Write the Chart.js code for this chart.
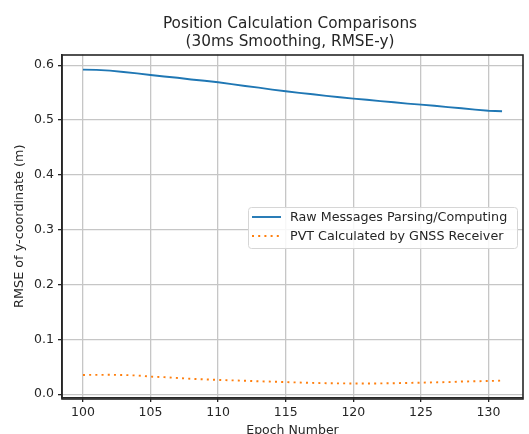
<!DOCTYPE html>
<html>
<head>
<meta charset="utf-8">
<script src="https://cdn.jsdelivr.net/npm/chart.js@4"></script>
<style>
  html, body { margin: 0; padding: 0; background: #fff; overflow: hidden; }
  #wrap { width: 529px; height: 434px; }
</style>
</head>
<body>
<div id="wrap"><canvas id="c"></canvas></div>
<script>
// Epoch numbers on the x axis
const epochs = [100,101,102,103,104,105,106,107,108,109,110,111,112,113,114,115,
                116,117,118,119,120,121,122,123,124,125,126,127,128,129,130,131];

// RMSE of y-coordinate (m) per epoch
const rawParsing = [0.592,0.5915,0.590,0.5875,0.585,0.582,0.5795,0.577,0.574,0.5715,0.569,0.5655,
                    0.562,0.559,0.5555,0.5525,0.5495,0.547,0.544,0.5415,0.539,0.537,0.5345,0.5325,
                    0.530,0.528,0.526,0.5235,0.5215,0.519,0.517,0.516];
const receiverPvt = [0.035,0.0352,0.0353,0.035,0.034,0.032,0.031,0.0295,0.028,0.027,0.026,0.0252,
                     0.0245,0.0235,0.0228,0.022,0.0212,0.0205,0.020,0.0197,0.0195,0.0194,0.0196,0.020,
                     0.0205,0.021,0.0215,0.022,0.023,0.0235,0.024,0.0248];

const xTicks = [100,105,110,115,120,125,130];
const yTicks = [0.0,0.1,0.2,0.3,0.4,0.5,0.6];

const seriesLabels = ['Raw Messages Parsing/Computing', 'PVT Calculated by GNSS Receiver'];
const titleLines = ['Position Calculation Comparisons', '(30ms Smoothing, RMSE-y)'];
const xTitle = 'Epoch Number';
const yTitle = 'RMSE of y-coordinate (m)';

const FONT = "'DejaVu Sans', sans-serif";
const TEXT = '#262626';

// two-line title centred over the plot area
const plotTitle = {
  id: 'plotTitle',
  afterDraw(chart) {
    const {ctx, chartArea: a} = chart;
    const cx = (a.left + a.right) / 2 - 2.5;
    ctx.save();
    ctx.font = '15.3px ' + FONT;
    ctx.fillStyle = TEXT;
    ctx.textAlign = 'center';
    ctx.textBaseline = 'middle';
    titleLines.forEach((t, i) => ctx.fillText(t, cx, 24 + i * 18));
    ctx.restore();
  }
};

// closed frame around the plot area (all four spines)
const frame = {
  id: 'frame',
  afterDatasetsDraw(chart) {
    const {ctx, chartArea: a} = chart;
    ctx.save();
    ctx.strokeStyle = '#262626';
    ctx.lineWidth = 1.6;
    ctx.strokeRect(Math.round(a.left), Math.round(a.top),
                   Math.round(a.right - a.left), Math.round(a.bottom - a.top));
    ctx.restore();
  }
};

// legend box placed inside the plot area, right side
const innerLegend = {
  id: 'innerLegend',
  afterDraw(chart) {
    const {ctx, chartArea: a} = chart;
    const boxW = 269, boxH = 41;
    const x = a.right - 6 - boxW;
    const y = 207;
    ctx.save();
    ctx.fillStyle = 'rgba(255,255,255,0.85)';
    ctx.strokeStyle = '#d6d6d6';
    ctx.lineWidth = 1;
    ctx.beginPath();
    ctx.roundRect(x + 0.5, y + 0.5, boxW, boxH, 3);
    ctx.fill();
    ctx.stroke();
    ctx.font = '12.7px ' + FONT;
    ctx.textBaseline = 'middle';
    chart.data.datasets.forEach((ds, i) => {
      const cy = y + 10 + i * 19;
      ctx.strokeStyle = ds.borderColor;
      ctx.lineWidth = ds.borderWidth;
      ctx.setLineDash(ds.borderDash || []);
      ctx.beginPath();
      ctx.moveTo(x + 4, cy);
      ctx.lineTo(x + 33, cy);
      ctx.stroke();
      ctx.setLineDash([]);
      ctx.fillStyle = TEXT;
      ctx.fillText(ds.label, x + 42, cy + 0.5);
    });
    ctx.restore();
  }
};

new Chart(document.getElementById('c'), {
  type: 'line',
  data: {
    labels: epochs,
    datasets: [
      {
        label: seriesLabels[0],
        data: epochs.map((e, i) => ({x: e, y: rawParsing[i]})),
        borderColor: '#1f77b4',
        borderWidth: 1.9,
        pointRadius: 0,
        tension: 0,
        fill: false
      },
      {
        label: seriesLabels[1],
        data: epochs.map((e, i) => ({x: e, y: receiverPvt[i]})),
        borderColor: '#ff7f0e',
        borderWidth: 1.9,
        borderDash: [2, 4.2],
        pointRadius: 0,
        tension: 0,
        fill: false
      }
    ]
  },
  options: {
    responsive: true,
    maintainAspectRatio: false,
    animation: false,
    layout: { padding: { left: 0, right: 6, top: 54.5, bottom: 0 } },
    plugins: {
      legend: { display: false },
      tooltip: { enabled: false },
      title: { display: false }
    },
    scales: {
      x: {
        type: 'linear',
        min: 98.45,
        max: 132.55,
        afterBuildTicks(scale) { scale.ticks = xTicks.map(v => ({value: v})); },
        afterFit(scale) { scale.height = 36; },
        ticks: {
          color: TEXT,
          font: { family: FONT, size: 12.5 },
          padding: 3.5,
          maxRotation: 0,
          autoSkip: false
        },
        grid: { color: '#c6c6c6', lineWidth: 1.3, tickLength: 4, tickColor: '#262626', drawTicks: true },
        border: { display: true, color: '#262626', width: 1.6 },
        title: {
          display: true,
          text: xTitle,
          color: TEXT,
          font: { family: FONT, size: 12.5, lineHeight: 1.2 },
          padding: { top: 0, bottom: -4.5 }
        }
      },
      y: {
        type: 'linear',
        min: -0.007,
        max: 0.6195,
        afterBuildTicks(scale) { scale.ticks = yTicks.map(v => ({value: v})); },
        afterFit(scale) { scale.width = 62; },
        ticks: {
          color: TEXT,
          font: { family: FONT, size: 12.5 },
          padding: 4,
          callback: v => v.toFixed(1)
        },
        grid: { color: '#c6c6c6', lineWidth: 1.3, tickLength: 4, tickColor: '#262626', drawTicks: true },
        border: { display: true, color: '#262626', width: 1.6 },
        title: {
          display: true,
          text: yTitle,
          color: TEXT,
          font: { family: FONT, size: 12.8, lineHeight: 1.2 },
          padding: { top: 12.3, bottom: 0 }
        }
      }
    }
  },
  plugins: [frame, innerLegend, plotTitle]
});
</script>
</body>
</html>
